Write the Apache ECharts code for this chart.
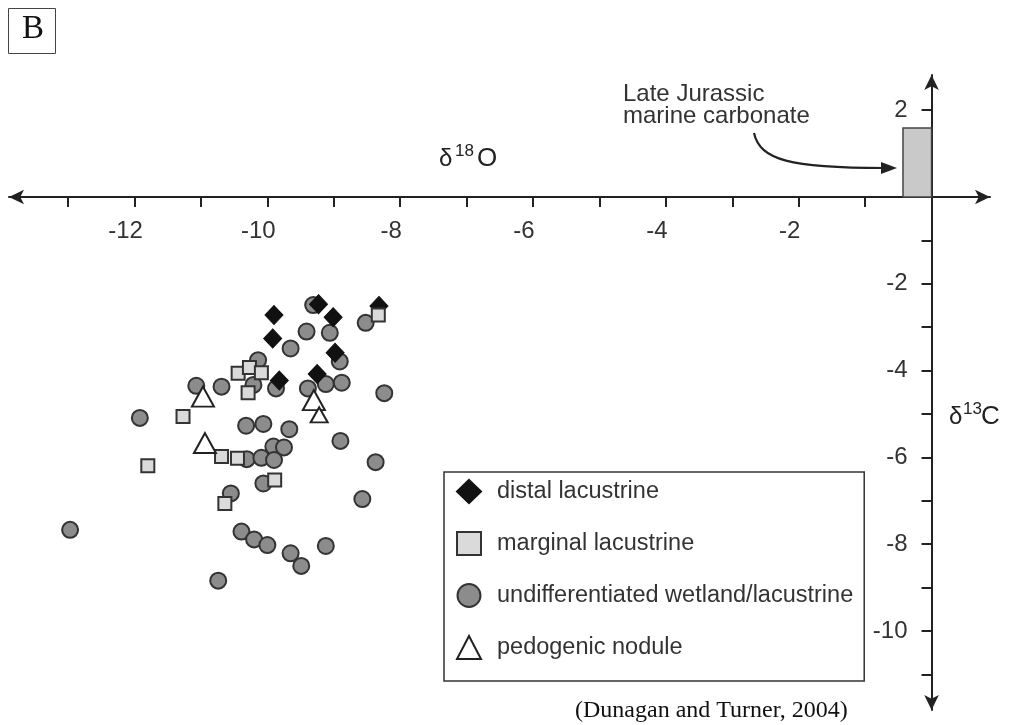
<!DOCTYPE html>
<html><head><meta charset="utf-8">
<script src="https://cdn.jsdelivr.net/npm/echarts@6/dist/echarts.min.js"></script>
<style>html,body{margin:0;padding:0;background:#fff}#c{width:1010px;height:725px}</style>
</head><body><div id="c"></div>
<script>
// δ18O (x), δ13C (y)
const distalLacustrine = [
  [-9.90,-2.72],[-9.92,-3.26],[-9.23,-2.47],[-9.01,-2.77],
  [-8.32,-2.51],[-8.98,-3.59],[-9.82,-4.23],[-9.25,-4.08]
];
const marginalLacustrine = [
  [-8.33,-2.72],[-10.44,-4.06],[-10.27,-3.93],[-10.09,-4.05],[-10.29,-4.51],
  [-11.27,-5.06],[-10.69,-5.98],[-10.45,-6.02],[-11.80,-6.19],[-9.89,-6.52],[-10.64,-7.06]
];
const undifferentiated = [
  [-11.07,-4.35],[-10.69,-4.37],[-11.92,-5.09],[-9.31,-2.49],[-9.65,-3.49],
  [-9.41,-3.10],[-9.06,-3.13],[-8.52,-2.90],[-8.91,-3.79],[-10.14,-3.76],
  [-10.21,-4.33],[-9.87,-4.41],[-9.39,-4.41],[-9.12,-4.31],[-8.88,-4.28],
  [-8.24,-4.52],[-10.32,-5.27],[-10.06,-5.23],[-9.67,-5.35],[-10.31,-6.04],
  [-10.09,-6.01],[-9.91,-5.75],[-9.75,-5.77],[-9.90,-6.06],[-8.90,-5.62],
  [-8.37,-6.11],[-10.06,-6.60],[-10.55,-6.83],[-8.57,-6.96],[-10.39,-7.71],
  [-10.20,-7.89],[-10.00,-8.02],[-9.65,-8.21],[-9.49,-8.50],[-9.12,-8.04],
  [-12.97,-7.67],[-10.74,-8.84]
];
const pedogenicNodule = [[-10.97,-4.60],[-9.30,-4.68],[-9.22,-5.02],[-10.94,-5.67]];
const pedogenicSmall = [false,false,true,false];

const xTicks = [-13,-12,-11,-10,-9,-8,-7,-6,-5,-4,-3,-2,-1];
const xTickLabels = [-12,-10,-8,-6,-4,-2];
const yTicks = [-11,-10,-9,-8,-7,-6,-5,-4,-3,-2,-1,1,2];
const yTickLabels = [-10,-8,-6,-4,-2,2];
const marineBox = [[-0.43,0],[0,1.59]];
const xRange = [-13.89, 0.88];
const yRange = [-11.82, 2.81];

const names = ['distal lacustrine','marginal lacustrine','undifferentiated wetland/lacustrine','pedogenic nodule'];
const AX = '#222';
const SANS = 'Liberation Sans, Arial, Helvetica, sans-serif';
const SERIF = 'Liberation Serif, Times New Roman, serif';

// grid box
const G = {left:9, right:20, top:75, bottom:15};
const W = 1010, H = 725;
const gw = W - G.left - G.right, gh = H - G.top - G.bottom;
// offsets so that the axes cross at (0,0)
const yZeroPx = G.top + (yRange[1] - 0) / (yRange[1] - yRange[0]) * gh;
const xZeroPx = G.left + (0 - xRange[0]) / (xRange[1] - xRange[0]) * gw;
const xAxisOffset = -((G.top + gh) - yZeroPx);
const yAxisOffset = -(xZeroPx - G.left);

const chart = echarts.init(document.getElementById('c'), null, {renderer:'canvas'});
chart.setOption({
  animation:false,
  backgroundColor:'#fff',
  grid:{left:G.left,right:G.right,top:G.top,bottom:G.bottom,containLabel:false,outerBoundsMode:'none'},
  xAxis:{
    type:'value', min:xRange[0], max:xRange[1], position:'bottom', offset:xAxisOffset,
    axisLine:{onZero:false, symbol:['arrow','arrow'], symbolSize:[11,15], lineStyle:{color:AX,width:2}},
    axisTick:{show:true, customValues:xTicks, length:10, lineStyle:{color:AX,width:2}},
    axisLabel:{customValues:xTickLabels, margin:22, padding:[0,18,0,0], color:'#333', fontSize:24, fontFamily:SANS},
    splitLine:{show:false}
  },
  yAxis:{
    type:'value', min:yRange[0], max:yRange[1], position:'left', offset:yAxisOffset,
    axisLine:{onZero:false, symbol:['arrow','arrow'], symbolSize:[11,15], lineStyle:{color:AX,width:2}},
    axisTick:{show:true, customValues:yTicks, length:10, lineStyle:{color:AX,width:2}},
    axisLabel:{customValues:yTickLabels, margin:24, color:'#333', fontSize:24, fontFamily:SANS},
    splitLine:{show:false}
  },
  legend:{
    data:names, orient:'vertical', left:444, top:472,
    itemWidth:24, itemHeight:23, itemGap:27,
    padding:[7,11,21,12],
    borderColor:'#333', borderWidth:1.5, backgroundColor:'#fff',
    selectedMode:false,
    textStyle:{fontSize:23.5, fontFamily:SANS, color:'#333', padding:[0,0,0,11]}
  },
  series:[
    {
      name:names[2], type:'scatter', z:2, symbol:'circle', symbolSize:16,
      itemStyle:{color:'#8c8c8c', borderColor:'#333', borderWidth:2, opacity:1},
      data:undifferentiated
    },
    {
      name:names[0], type:'scatter', z:3, symbol:'diamond', symbolSize:[18,19],
      itemStyle:{color:'#111', borderColor:'#111', borderWidth:1, opacity:1},
      data:distalLacustrine,
      markArea:{silent:true, itemStyle:{color:'#c9c9c9', borderColor:'#444', borderWidth:1.5},
        data:[[{coord:marineBox[0]},{coord:marineBox[1]}]]}
    },
    {
      name:names[1], type:'scatter', z:4, symbol:'rect', symbolSize:13,
      itemStyle:{color:'#dadada', borderColor:'#333', borderWidth:2, opacity:1},
      data:marginalLacustrine
    },
    {
      name:names[3], type:'scatter', z:5, symbol:'triangle', symbolSize:[22,20],
      itemStyle:{color:'#fff', borderColor:'#222', borderWidth:2, opacity:1},
      data:pedogenicNodule.map((p,i)=> pedogenicSmall[i] ? {value:p, symbolSize:[17,15]} : p)
    }
  ],
  graphic:[
    {type:'rect', shape:{x:8.5,y:8.5,width:47,height:45}, style:{fill:'#fff',stroke:'#444',lineWidth:1}},
    {type:'text', x:33, y:29.5, style:{text:'B', font:'33px '+SERIF, fill:'#111', align:'center', verticalAlign:'middle', textAlign:'center', textVerticalAlign:'middle'}},
    {type:'text', x:623, y:94.7, style:{text:'Late Jurassic', font:'24px '+SANS, fill:'#333', align:'left', verticalAlign:'middle', textAlign:'left', textVerticalAlign:'middle'}},
    {type:'text', x:623, y:116.7, style:{text:'marine carbonate', font:'24px '+SANS, fill:'#333', align:'left', verticalAlign:'middle', textAlign:'left', textVerticalAlign:'middle'}},
    {type:'bezierCurve', shape:{x1:754,y1:133,cpx1:760,cpy1:160,cpx2:790,cpy2:168,x2:884,y2:168}, style:{stroke:'#222',lineWidth:2.2,fill:null}},
    {type:'polygon', shape:{points:[[881,162],[897,168],[881,174]]}, style:{fill:'#222'}},
    {type:'text', x:439, y:159, style:{text:'δ', font:'24px '+SANS, fill:'#222', align:'left', verticalAlign:'middle', textAlign:'left', textVerticalAlign:'middle'}},
    {type:'text', x:455, y:151, style:{text:'18', font:'17px '+SANS, fill:'#222', align:'left', verticalAlign:'middle', textAlign:'left', textVerticalAlign:'middle'}},
    {type:'text', x:477, y:159, style:{text:'O', font:'26px '+SANS, fill:'#222', align:'left', verticalAlign:'middle', textAlign:'left', textVerticalAlign:'middle'}},
    {type:'text', x:949, y:417, style:{text:'δ', font:'24px '+SANS, fill:'#222', align:'left', verticalAlign:'middle', textAlign:'left', textVerticalAlign:'middle'}},
    {type:'text', x:963, y:409, style:{text:'13', font:'17px '+SANS, fill:'#222', align:'left', verticalAlign:'middle', textAlign:'left', textVerticalAlign:'middle'}},
    {type:'text', x:981, y:417, style:{text:'C', font:'26px '+SANS, fill:'#222', align:'left', verticalAlign:'middle', textAlign:'left', textVerticalAlign:'middle'}},
    {type:'text', x:575, y:711, style:{text:'(Dunagan and Turner, 2004)', font:'24px '+SERIF, fill:'#111', align:'left', verticalAlign:'middle', textAlign:'left', textVerticalAlign:'middle'}}
  ]
});
</script></body></html>
